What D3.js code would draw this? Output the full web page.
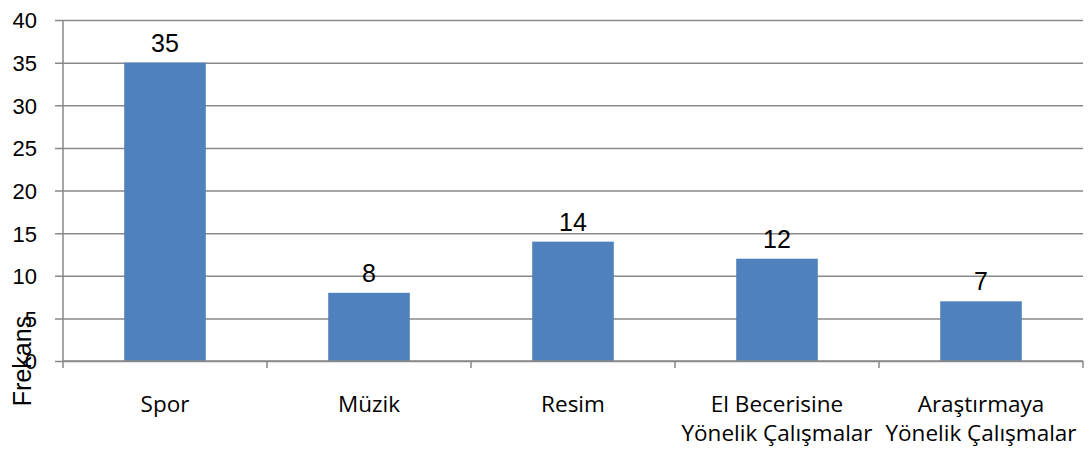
<!DOCTYPE html>
<html>
<head>
<meta charset="utf-8">
<script src="https://cdn.jsdelivr.net/npm/d3@7"></script>
<style>
  body { margin: 0; background: #fff; }
  svg { display: block; }
</style>
</head>
<body>
<div id="chart"></div>
<script>
// data
var categories = [
  ["Spor"],
  ["Müzik"],
  ["Resim"],
  ["El Becerisine", "Yönelik Çalışmalar"],
  ["Araştırmaya", "Yönelik Çalışmalar"]
];
var values = [35, 8, 14, 12, 7];
var yTicks = [0, 5, 10, 15, 20, 25, 30, 35, 40];
var yTitle = "Frekans";

var width = 1090;
var height = 451;
// plot area
var plot = { left: 63, right: 1083, top: 20, bottom: 361 };
var gridColor = "#898989";
var barColor = "#4f81bd";

var svg = d3.select("#chart")
  .append("svg")
  .attr("width", width)
  .attr("height", height);

var xScale = d3.scaleBand()
  .domain(d3.range(categories.length))
  .range([plot.left, plot.right])
  .paddingInner(0.6)
  .paddingOuter(0.3);

var yScale = d3.scaleLinear()
  .domain([0, 40])
  .range([plot.bottom, plot.top]);

// gridlines + y ticks
var yAxis = d3.axisLeft(yScale)
  .tickValues(yTicks)
  .tickSize(-(plot.right - plot.left))
  .tickFormat(d3.format("d"));

var gy = svg.append("g")
  .attr("transform", "translate(" + plot.left + ",0)")
  .call(yAxis);
gy.select(".domain").remove();
gy.selectAll(".tick line")
  .attr("x1", -8)
  .attr("stroke", gridColor)
  .attr("stroke-width", 1.5);
gy.selectAll(".tick text")
  .attr("font-family", "'Liberation Sans', Arial, sans-serif")
  .attr("font-size", 22)
  .attr("fill", "#000")
  .attr("x", 37 - plot.left)
  .attr("dy", "0.36em");

// bars
svg.append("g")
  .selectAll("rect")
  .data(values)
  .enter()
  .append("rect")
  .attr("x", function(d, i) { return xScale(i); })
  .attr("y", function(d) { return yScale(d); })
  .attr("width", xScale.bandwidth())
  .attr("height", function(d) { return yScale(0) - yScale(d); })
  .attr("fill", barColor);

// y axis line
svg.append("line")
  .attr("x1", plot.left).attr("x2", plot.left)
  .attr("y1", plot.top).attr("y2", plot.bottom)
  .attr("stroke", gridColor)
  .attr("stroke-width", 1.5);

// x axis line + ticks between categories
svg.append("line")
  .attr("x1", plot.left).attr("x2", plot.right)
  .attr("y1", plot.bottom).attr("y2", plot.bottom)
  .attr("stroke", gridColor)
  .attr("stroke-width", 1.5);

var step = xScale.step();
var bounds = d3.range(categories.length + 1).map(function(i) {
  return plot.left + i * step;
});
svg.append("g")
  .selectAll("line")
  .data(bounds)
  .enter()
  .append("line")
  .attr("x1", function(d) { return d; })
  .attr("x2", function(d) { return d; })
  .attr("y1", plot.bottom)
  .attr("y2", plot.bottom + 7)
  .attr("stroke", gridColor)
  .attr("stroke-width", 1.5);

// data labels
svg.append("g")
  .selectAll("text")
  .data(values)
  .enter()
  .append("text")
  .attr("x", function(d, i) { return xScale(i) + xScale.bandwidth() / 2; })
  .attr("y", function(d) { return yScale(d) - 11; })
  .attr("text-anchor", "middle")
  .attr("font-family", "'Liberation Sans', Arial, sans-serif")
  .attr("font-size", 25)
  .attr("fill", "#000")
  .text(function(d) { return d; });

// category labels
var cat = svg.append("g")
  .selectAll("text")
  .data(categories)
  .enter()
  .append("text")
  .attr("x", function(d, i) { return xScale(i) + xScale.bandwidth() / 2; })
  .attr("y", 412)
  .attr("text-anchor", "middle")
  .attr("font-family", "'Open Sans', sans-serif")
  .attr("font-size", 22.5)
  .attr("fill", "#000");
cat.selectAll("tspan")
  .data(function(d) { return d; })
  .enter()
  .append("tspan")
  .attr("x", function() { return d3.select(this.parentNode).attr("x"); })
  .attr("dy", function(d, i) { return i === 0 ? 0 : 29; })
  .text(function(d) { return d; });

// y title
svg.append("text")
  .attr("transform", "translate(31,361) rotate(-90)")
  .attr("text-anchor", "middle")
  .attr("font-family", "'Liberation Sans', Arial, sans-serif")
  .attr("font-size", 25)
  .attr("fill", "#000")
  .text(yTitle);
</script>
</body>
</html>
